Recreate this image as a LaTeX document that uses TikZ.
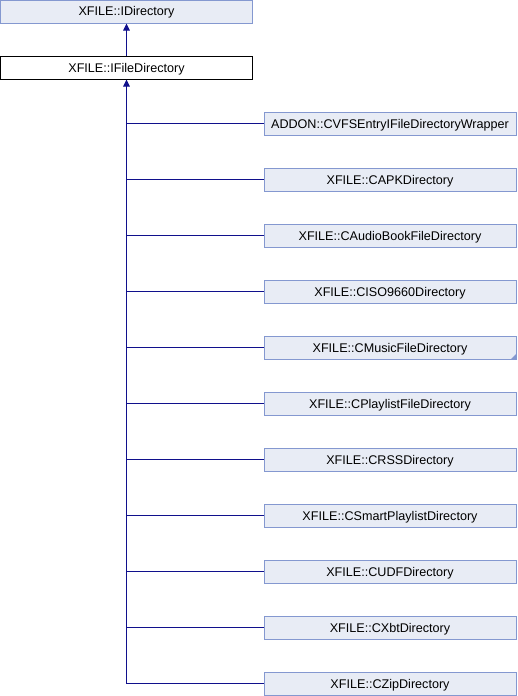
\documentclass[tikz,border=0pt]{standalone}
\usepackage{fontspec}
\setmainfont{Liberation Sans}
\usetikzlibrary{arrows.meta}
\definecolor{boxfill}{RGB}{232,236,245}
\definecolor{boxdraw}{RGB}{132,152,208}
\definecolor{edge}{RGB}{16,16,140}
\tikzset{
  cls/.style={draw=boxdraw, fill=boxfill, line width=1pt, minimum width=252pt, minimum height=23pt, inner sep=0pt, text height=9pt, text depth=0pt, font=\fontsize{12.6}{14}\selectfont},
  curcls/.style={cls, draw=black, fill=white},
  link/.style={draw=edge, line width=1pt},
  inh/.style={link, -{Triangle[length=7pt,width=6.5pt]}},
}
\begin{document}
\begin{tikzpicture}[x=1pt,y=-1pt]
\useasboundingbox (0,0) rectangle (518,696);
\node[cls] (idir) at (126.5,11.5) {XFILE::IDirectory};
\node[curcls] (ifd) at (126.5,67.5) {XFILE::IFileDirectory};
\draw[inh] (ifd.north) -- (idir.south);
\node[cls] (c1) at (390,123.5) {ADDON::CVFSEntryIFileDirectoryWrapper};
\node[cls] (c2) at (390,179.5) {XFILE::CAPKDirectory};
\node[cls] (c3) at (390,235.5) {XFILE::CAudioBookFileDirectory};
\node[cls] (c4) at (390,291.5) {XFILE::CISO9660Directory};
\node[cls] (c5) at (390,347.5) {XFILE::CMusicFileDirectory};
\node[cls] (c6) at (390,403.5) {XFILE::CPlaylistFileDirectory};
\node[cls] (c7) at (390,459.5) {XFILE::CRSSDirectory};
\node[cls] (c8) at (390,515.5) {XFILE::CSmartPlaylistDirectory};
\node[cls] (c9) at (390,571.5) {XFILE::CUDFDirectory};
\node[cls] (c10) at (390,627.5) {XFILE::CXbtDirectory};
\node[cls] (c11) at (390,683.5) {XFILE::CZipDirectory};
\fill[boxdraw] (c5.south east) -- ++(0,-6) -- ++(-6,6) -- cycle;
\foreach \c in {c1,c2,c3,c4,c5,c6,c7,c8,c9,c10}
  \draw[link] (\c.west) -| (ifd.south);
\draw[inh] (c11.west) -| (ifd.south);
\end{tikzpicture}
\end{document}
